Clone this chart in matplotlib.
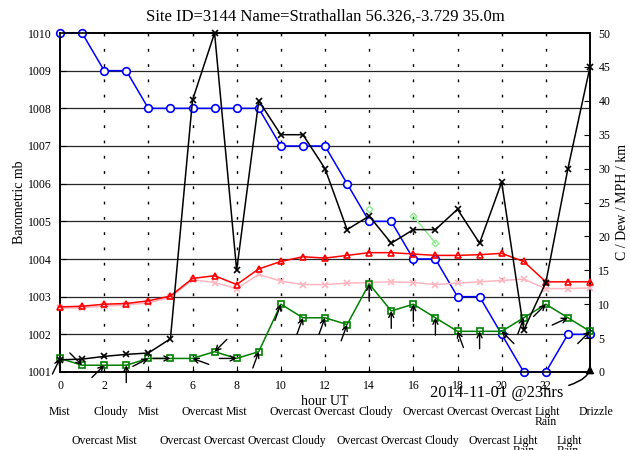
import numpy as np
import matplotlib
matplotlib.use('Agg')
import matplotlib.pyplot as plt
import matplotlib.transforms as mtransforms

plt.rcParams['font.family'] = ['Liberation Serif', 'DejaVu Serif']

nan = np.nan
hours = list(range(25))
tick_hours = list(range(0, 23, 2))

pressure = [1010, 1010, 1009, 1009, 1008, 1008, 1008, 1008, 1008, 1008, 1007, 1007, 1007,
            1006, 1005, 1005, 1004, 1004, 1003, 1003, 1002, 1001, 1001, 1002, 1002]
visibility = [1.8, 1.9, 2.3, 2.6, 2.8, 4.9, 40.1, 50, 15, 40, 35, 35, 30,
              21, 23, 19, 21, 21, 24, 19, 28, 6.2, 13.2, 30, 45]
temperature = [9.6, 9.7, 10.0, 10.1, 10.5, 11.2, 13.8, 14.2, 12.9, 15.2, 16.3, 17.0, 16.8,
               17.2, 17.6, 17.6, 17.4, 17.2, 17.2, 17.3, 17.5, 16.3, 13.3, 13.3, 13.3]
dewpoint = [9.4, 9.5, 9.7, 9.9, 10.2, 11.0, 13.6, 13.2, 12.3, 14.4, 13.4, 12.9, 12.9,
            13.1, 13.2, 13.3, 13.2, 12.9, 13.1, 13.3, 13.5, 13.7, 12.3, 12.3, 12.4]
wind_mph = [2, 1, 1, 1, 2, 2, 2, 3, 2, 3, 10, 8, 8,
            7, 13, 9, 10, 8, 6, 6, 6, 8, 10, 8, 6]
gust_mph = [nan] * 14 + [24, nan, 23, 19] + [nan] * 7
wind_dir = [206, 315, 225, 180, 243, 270, 110, 45, 270, 200, 200, 200, 200,
            200, 180, 180, 180, 180, 160, 180, 135, 200, 225, 245, 225]
weather = ['Mist', 'Overcast', 'Cloudy', 'Mist', 'Mist', 'Overcast', 'Overcast', 'Overcast',
           'Mist', 'Overcast', 'Overcast', 'Cloudy', 'Overcast', 'Overcast', 'Cloudy',
           'Overcast', 'Overcast', 'Cloudy', 'Overcast', 'Overcast', 'Overcast',
           'Light\nRain', 'Light\nRain', 'Light\nRain', 'Drizzle']

fig = plt.figure(figsize=(6.3, 4.5), dpi=100)
ax = fig.add_axes([60 / 630, 1 - 372 / 450, 530 / 630, 339 / 450])
ax2 = ax.twinx()

ax.set_xlim(0, 24)
ax.set_ylim(1001, 1010)
ax2.set_ylim(0, 50)

# grid: solid horizontals on pressure ticks, sparse dotted verticals
for p in range(1002, 1010):
    ax.axhline(p, color='0.15', lw=0.9, zorder=1)
for h in tick_hours[1:]:
    ax.axvline(h, color='black', lw=1.0, dashes=(2, 9), zorder=1)

ax.plot(hours, pressure, color='blue', lw=1.1, marker='o', ms=5.5, mfc='white',
        mew=1.2, clip_on=False, zorder=5)

ax2.plot(hours, dewpoint, color='#ffb6c1', lw=1.1, marker='x', ms=5, mew=1.2,
         clip_on=False, zorder=3)
ax2.plot(hours, temperature, color='red', lw=1.1, marker='^', ms=5, mfc='none',
         mew=1.2, clip_on=False, zorder=4)
ax2.plot(hours, gust_mph, color='#90ee90', lw=1.1, marker='D', ms=3.5, mfc='none',
         mew=1.0, clip_on=False, zorder=4)
ax2.plot(hours, wind_mph, color='green', lw=1.1, marker='s', ms=5, mfc='none',
         mew=1.2, clip_on=False, zorder=4)
ax2.plot(hours, visibility, color='black', lw=1.1, marker='x', ms=5, mew=1.2,
         clip_on=False, zorder=6)

# wind direction arrows pointing into each wind point
L = 12.5
for h, v, d in zip(hours, wind_mph, wind_dir):
    t = np.radians(d)
    ax2.annotate('', xy=(h, v), xytext=(L * np.sin(t), L * np.cos(t)),
                 textcoords='offset points',
                 arrowprops=dict(arrowstyle='->', color='black', lw=1.0,
                                 shrinkA=0, shrinkB=0, mutation_scale=9),
                 annotation_clip=False, zorder=7)

for a in (ax, ax2):
    for s in a.spines.values():
        s.set_linewidth(1.2)
ax.set_xticks(tick_hours)
ax.set_yticks(range(1001, 1011))
ax2.set_yticks(range(0, 51, 5))
ax.tick_params(axis='both', direction='in', length=4, labelsize=8.5, pad=6)
ax2.tick_params(axis='y', direction='in', length=4, labelsize=8.5, pad=6)

ax.set_title('Site ID=3144 Name=Strathallan 56.326,-3.729 35.0m', fontsize=12, pad=9)
ax.set_xlabel('hour UT', fontsize=10, labelpad=2)
ax.set_ylabel('Barometric mb', fontsize=10, labelpad=1)
ax2.set_ylabel('C / Dew / MPH / km', fontsize=10, labelpad=4)

# weather descriptions, two staggered rows
trans = mtransforms.blended_transform_factory(ax.transData, fig.transFigure)
for h, w in zip(hours, weather):
    y = 1 - 406 / 450 if h % 2 == 0 else 1 - 435 / 450
    fig.text(h - 0.5, y, w, transform=trans, ha='left', va='top',
             fontsize=8.5, linespacing=0.8)

ax2.annotate('2014-11-01 @23hrs', xy=(24, 1), xycoords='data',
             xytext=(430 / 630, 1 - 393 / 450), textcoords='figure fraction',
             ha='left', va='center', fontsize=12,
             arrowprops=dict(arrowstyle='-|>', color='black', lw=1.1,
                             connectionstyle='angle3,angleA=0,angleB=90',
                             shrinkA=2, shrinkB=0, mutation_scale=12),
             annotation_clip=False, zorder=8)

fig.savefig('out.png', dpi=100)
